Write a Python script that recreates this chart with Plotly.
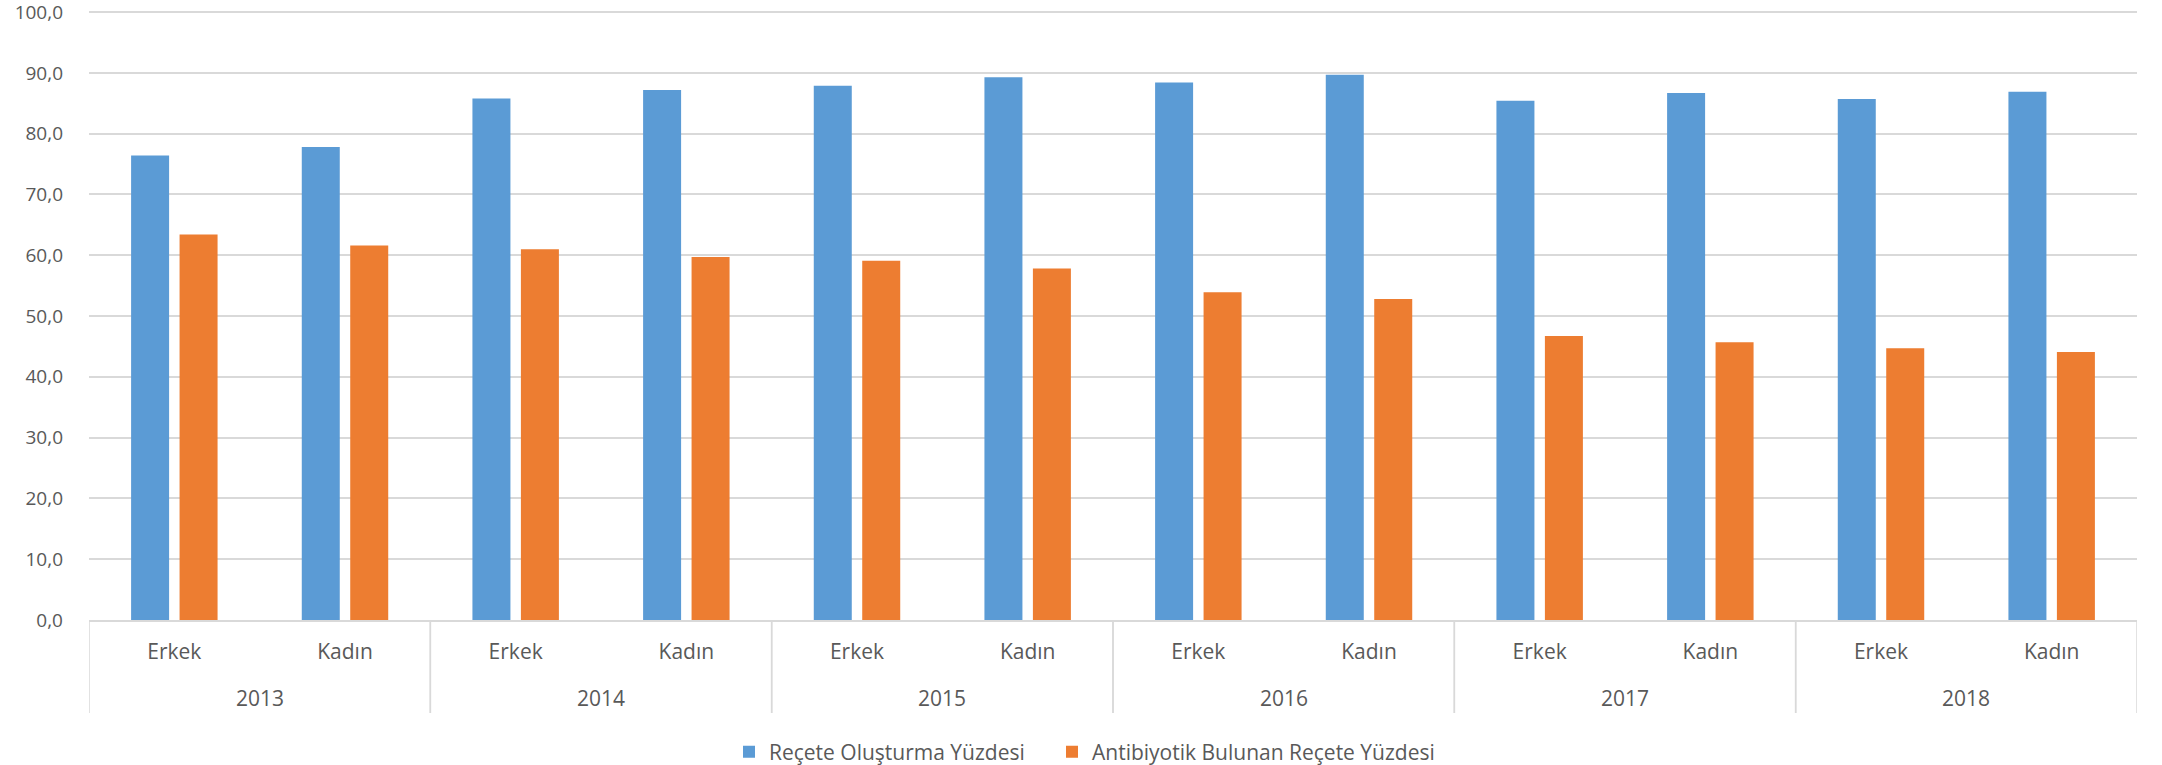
import plotly.graph_objects as go

years = ["2013", "2013", "2014", "2014", "2015", "2015", "2016", "2016", "2017", "2017", "2018", "2018"]
sexes = ["Erkek", "Kadın"] * 6
recete = [76.4, 77.8, 85.8, 87.2, 87.9, 89.3, 88.4, 89.7, 85.4, 86.7, 85.7, 86.9]
antibiyotik = [63.4, 61.6, 61.0, 59.7, 59.1, 57.8, 53.9, 52.8, 46.7, 45.7, 44.7, 44.1]
series_names = ["Reçete Oluşturma Yüzdesi", "Antibiyotik Bulunan Reçete Yüzdesi"]
y_ticks = [0, 10, 20, 30, 40, 50, 60, 70, 80, 90, 100]

BLUE = "#5b9bd5"
ORANGE = "#ed7d31"
GRID = "#d9d9d9"
TXT = "#595959"
FONT = "Open Sans"
FS = 21
FS_Y = 19

keys = [f"{y} {s}" for y, s in zip(years, sexes)]

fig = go.Figure()
fig.add_trace(go.Bar(x=keys, y=recete, name=series_names[0],
                     marker=dict(color=BLUE, line=dict(width=0)), legend="legend"))
fig.add_trace(go.Bar(x=keys, y=antibiyotik, name=series_names[1],
                     marker=dict(color=ORANGE, line=dict(width=0)), legend="legend2"))

# group (year) labels and dividers of the two-level category axis
plot_h = 765 - 6 - 145
year_order = list(dict.fromkeys(years))
for yr in year_order:
    idx = [i for i, v in enumerate(years) if v == yr]
    fig.add_annotation(x=sum(idx) / len(idx), xref="x", y=-78 / plot_h, yref="paper",
                       text=yr, showarrow=False, yanchor="middle",
                       font=dict(family=FONT, size=FS, color=TXT))
    for b in (min(idx) - 0.5, max(idx) + 0.5):
        fig.add_shape(type="line", xref="x", yref="paper", x0=b, x1=b,
                      y0=0, y1=-93 / plot_h, line=dict(color=GRID, width=1.5))

leg_common = dict(orientation="h", xref="container", yref="container",
                  xanchor="left", y=0.017, yanchor="middle",
                  font=dict(family=FONT, size=FS, color=TXT),
                  itemwidth=30, bgcolor="rgba(0,0,0,0)")

fig.update_layout(
    width=2162, height=765,
    margin=dict(l=89, r=25, t=6, b=145, autoexpand=False),
    paper_bgcolor="white", plot_bgcolor="white",
    separators=",.",
    barmode="group", bargap=0.432, bargroupgap=0.216,
    font=dict(family=FONT, size=FS, color=TXT),
    showlegend=True,
    legend=dict(x=(743 - 14) / 2162, **leg_common),
    legend2=dict(x=(1066 - 14) / 2162, **leg_common),
)
fig.update_yaxes(range=[0, 101], tickvals=y_ticks, tickformat=".1f",
                 showgrid=True, gridcolor=GRID, gridwidth=1.5,
                 zeroline=False, showline=False, ticks="",
                 ticklabelstandoff=25, ticklabeloverflow="allow",
                 tickfont=dict(family=FONT, size=FS_Y, color=TXT))
fig.update_xaxes(type="category", range=[-0.5, len(keys) - 0.5],
                 tickvals=keys, ticktext=sexes,
                 showline=True, linecolor=GRID, linewidth=1.5,
                 ticks="", ticklabelstandoff=12, showgrid=False,
                 tickfont=dict(family=FONT, size=FS, color=TXT))

fig.write_html("out.html", config={"displayModeBar": False},
               post_script="document.body.style.margin='0';")
